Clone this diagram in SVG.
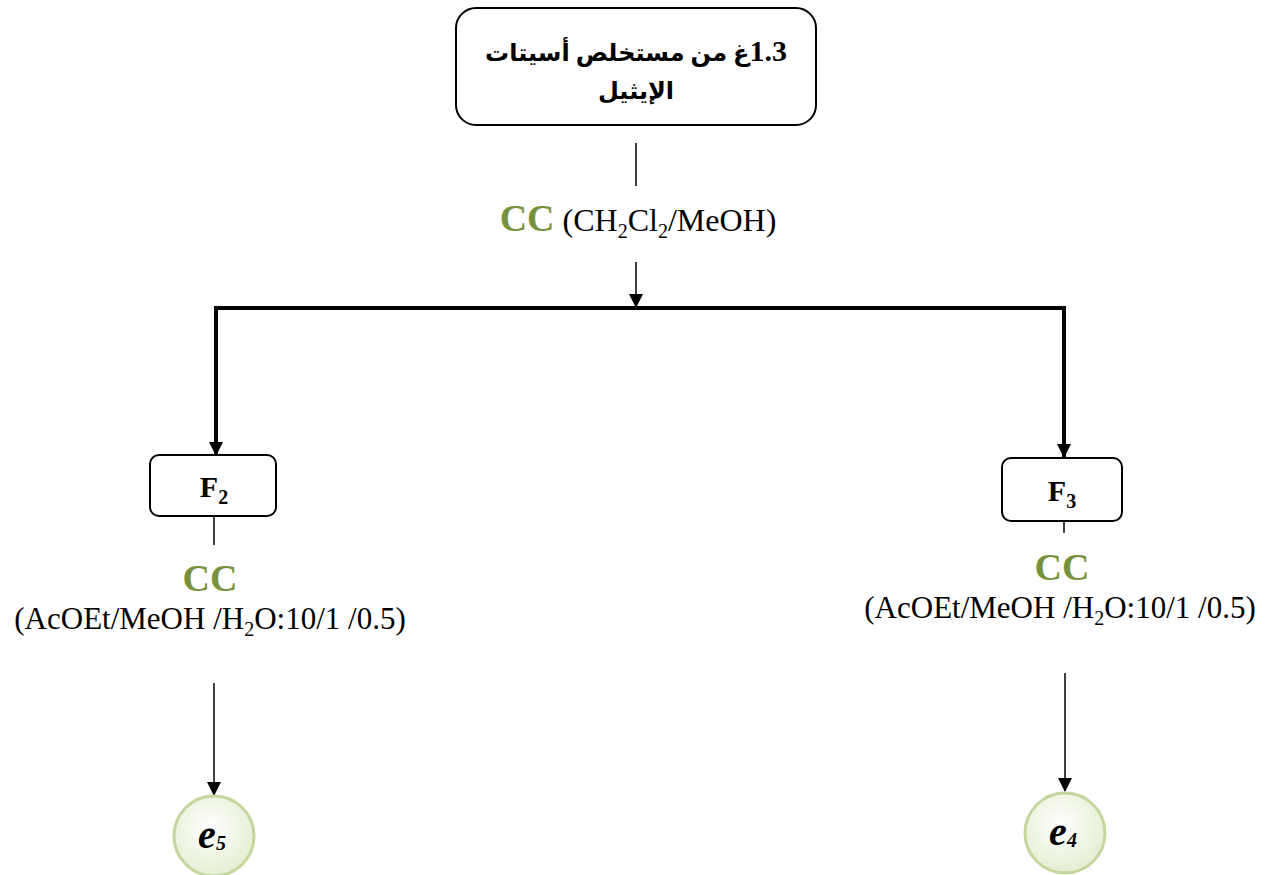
<svg xmlns="http://www.w3.org/2000/svg" width="1275" height="875" viewBox="0 0 1275 875">
<style>
.box{fill:#fff;stroke:#000;stroke-width:2}
.thin{stroke:#000;stroke-width:1.5;fill:none}
.thick{stroke:#000;stroke-width:4;fill:none}
.ar{font-family:"Liberation Serif","DejaVu Sans",serif;font-weight:bold;font-size:24px;fill:#000}
.tn{font-family:"Liberation Serif",serif;font-size:31px;fill:#000}
.tn2{font-family:"Liberation Serif",serif;font-size:32px;fill:#000}
.cc{font-family:"Liberation Serif",serif;font-weight:bold;font-size:38px;fill:#76923c}
.fb{font-family:"Liberation Serif",serif;font-weight:bold;font-size:30px;fill:#000}
.sub{font-size:20px}
.ee{font-family:"Liberation Serif",serif;font-weight:bold;font-style:italic;font-size:40px;fill:#000}
.circ{fill:url(#g);stroke:#c3d69b;stroke-width:3}
</style>
<defs>
<marker id="ahb" markerWidth="14" markerHeight="14" refX="13" refY="7" orient="auto" markerUnits="userSpaceOnUse" viewBox="0 0 14 14">
<path d="M0,0 L14,7 L0,14 Z" fill="#000"/>
</marker>
<radialGradient id="g" cx="0.45" cy="0.4" r="0.6">
<stop offset="0" stop-color="#ffffff"/>
<stop offset="1" stop-color="#e4eed2"/>
</radialGradient>
</defs>

<g id="connectors">
<line class="thin" x1="636" y1="143" x2="636" y2="186"/>
<line class="thin" x1="636" y1="262" x2="636" y2="307" marker-end="url(#ahb)"/>
<line class="thick" x1="214" y1="308" x2="1066" y2="308"/>
<line class="thick" x1="216" y1="306" x2="216" y2="455" marker-end="url(#ahb)"/>
<line class="thick" x1="1064" y1="306" x2="1064" y2="457" marker-end="url(#ahb)"/>
<line class="thin" x1="214" y1="516" x2="214" y2="545"/>
<line class="thin" x1="1064" y1="521" x2="1064" y2="533"/>
<line class="thin" x1="214" y1="683" x2="214" y2="795" marker-end="url(#ahb)"/>
<line class="thin" x1="1065" y1="673" x2="1065" y2="791" marker-end="url(#ahb)"/>
</g>

<g id="top">
<rect class="box" x="456" y="8" width="360" height="117" rx="20"/>
<text class="ar" x="636" y="61" text-anchor="middle" direction="rtl"><tspan style="font-size:30px">1.3</tspan>غ من مستخلص أسيتات</text>
<text class="ar" x="636" y="99" text-anchor="middle" direction="rtl">الإيثيل</text>
</g>

<g id="cc-top">
<text class="tn2" x="638" y="231" text-anchor="middle"><tspan class="cc">CC</tspan> (CH<tspan class="sub" dy="7">2</tspan><tspan dy="-7">Cl</tspan><tspan class="sub" dy="7">2</tspan><tspan dy="-7">/MeOH)</tspan></text>
</g>

<g id="F2">
<rect class="box" x="150" y="455" width="126" height="61" rx="9"/>
<text class="fb" x="214" y="497" text-anchor="middle">F<tspan class="sub" dy="7">2</tspan></text>
</g>

<g id="F3">
<rect class="box" x="1002" y="458" width="120" height="63" rx="9"/>
<text class="fb" x="1062" y="501" text-anchor="middle">F<tspan class="sub" dy="7">3</tspan></text>
</g>

<g id="cc-left">
<text class="cc" x="210" y="591" text-anchor="middle">CC</text>
<text class="tn" x="210" y="629" text-anchor="middle">(AcOEt/MeOH /H<tspan class="sub" dy="7">2</tspan><tspan dy="-7">O:10/1 /0.5)</tspan></text>
</g>

<g id="cc-right">
<text class="cc" x="1062" y="580" text-anchor="middle">CC</text>
<text class="tn" x="1060" y="618" text-anchor="middle">(AcOEt/MeOH /H<tspan class="sub" dy="7">2</tspan><tspan dy="-7">O:10/1 /0.5)</tspan></text>
</g>

<g id="e5">
<circle class="circ" cx="214" cy="836" r="40"/>
<text class="ee" x="212" y="848" text-anchor="middle">e<tspan style="font-size:20px" dy="2">5</tspan></text>
</g>

<g id="e4">
<circle class="circ" cx="1065" cy="833" r="40"/>
<text class="ee" x="1063" y="845" text-anchor="middle">e<tspan style="font-size:20px" dy="2">4</tspan></text>
</g>
</svg>
